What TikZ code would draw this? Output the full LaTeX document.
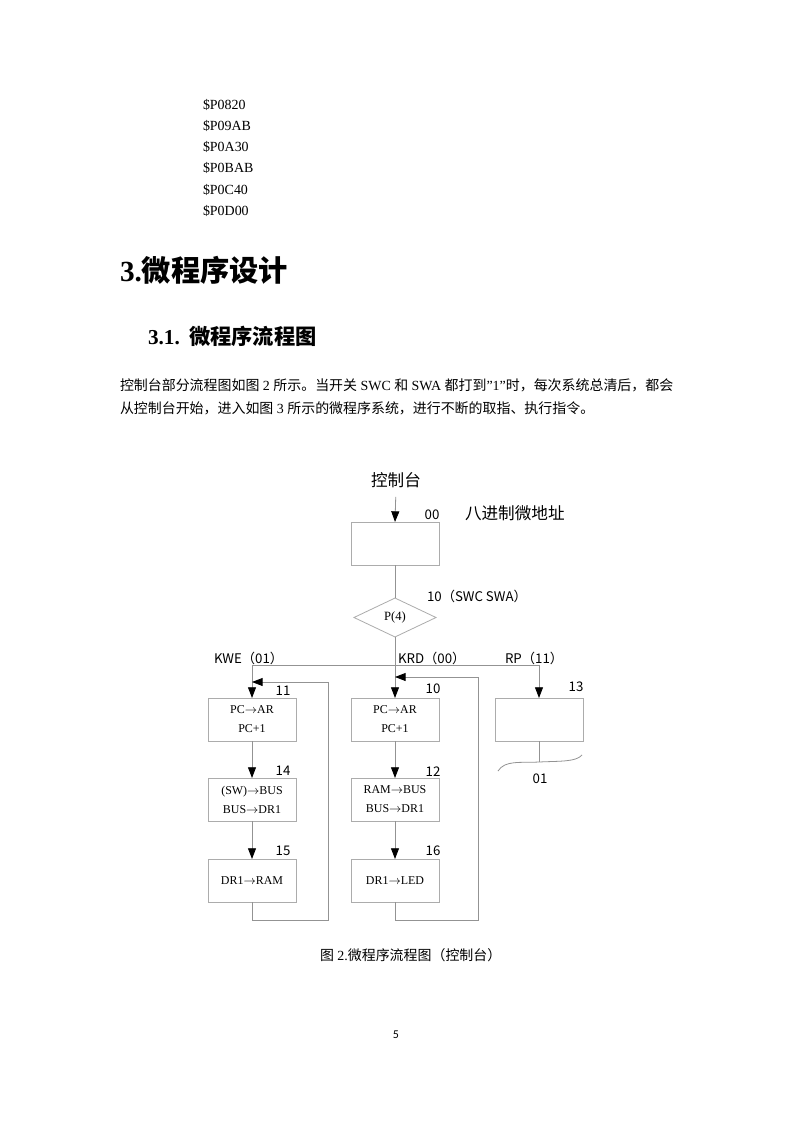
\documentclass[tikz,border=0pt]{standalone}
\usepackage{fontspec}
\setmainfont{Liberation Serif}
\newfontfamily\cjk{Noto Sans CJK SC}
\newfontfamily\pgfont{Carlito}
\usetikzlibrary{arrows.meta,positioning,shapes.geometric}
\newcommand\toarr{$\rightarrow$}

\begin{document}
\begin{tikzpicture}[x=0.026458cm,y=-0.026458cm,
  every node/.style={inner sep=0pt,outer sep=0pt},
  txt/.style={anchor=base west,font=\fontsize{10.5}{12}\selectfont},
  lbl/.style={font=\cjk\fontsize{10}{11}\selectfont},
  box/.style={draw=gray!65,line width=0.6pt,minimum width=2.33cm,minimum height=1.14cm,
    align=center,font=\fontsize{9}{14.3}\selectfont},
  ln/.style={draw=gray!85,line width=0.6pt},
  arr/.style={ln,-{Triangle[length=8pt,width=6pt,color=black]}}]
 \path[fill=white,use as bounding box] (0,0) rectangle (794,1123);
 % text of the page
 \foreach \c [count=\i] in {0820,09AB,0A30,0BAB,0C40,0D00}
   \node[txt] (code\i) at (203,{89+21*\i}) {\$P\c};
 \node[anchor=base west,font=\fontsize{22}{25}\selectfont\bfseries] (h1) at (120,281) {3.{\cjk 微程序设计}};
 \node[anchor=base west,font=\fontsize{16}{18}\selectfont\bfseries] (h2) at (148,344) {3.1.\hspace{7pt}{\cjk 微程序流程图}};
 \node[txt] (p1) at (120,390) {{\cjk 控制台部分流程图如图} 2 {\cjk 所示。当开关} SWC {\cjk 和} SWA {\cjk 都打到}"1"{\cjk 时，每次系统总清后，都会}};
 \node[txt] (p2) at (120,413) {{\cjk 从控制台开始，进入如图} 3 {\cjk 所示的微程序系统，进行不断的取指、执行指令。}};
 % flow chart
 \node[font=\cjk\fontsize{12.5}{14}\selectfont] (ctl) at (396,480) {控制台};
 \node[anchor=west,font=\cjk\fontsize{12.5}{14}\selectfont] (oct) at (465,513) {八进制微地址};
 \node[box] (b00) at (395,543.5) {};
 \node[diamond,draw=gray!65,line width=0.6pt,minimum width=2.17cm,minimum height=1.03cm,
   font=\fontsize{9.5}{11}\selectfont] (dia) at (395,617.5) {P(4)};
 \node[box] (b11) at (252,719.5) {PC\toarr AR\\PC+1};
 \node[box] (b14) at (252,799.5) {(SW)\toarr BUS\\BUS\toarr DR1};
 \node[box] (b15) at (252,880.5) {DR1\toarr RAM};
 \node[box] (b10) at (395,719.5) {PC\toarr AR\\PC+1};
 \node[box] (b12) at (395,799.5) {RAM\toarr BUS\\BUS\toarr DR1};
 \node[box] (b16) at (395,880.5) {DR1\toarr LED};
 \node[box] (b13) at (539,719.5) {};
 % labels
 \node[lbl] (a00) at (432,515) {00};
 \node[lbl,anchor=west] (asw) at (427,596) {10（SWC SWA）};
 \node[lbl,anchor=west] (kwe) at (214,658) {KWE（01）};
 \node[lbl,anchor=west] (krd) at (398,658) {KRD（00）};
 \node[lbl,anchor=west] (rp) at (505,658) {RP（11）};
 \foreach \n/\x/\y in {11/283/691,14/283/771,15/283/851,10/433/689,12/433/772,16/433/851,13/576/687}
   \node[lbl] (a\n) at (\x,\y) {\n};
 \node[lbl] (a01) at (540,779) {01};
 % connectors
 \coordinate (kL) at (252,665);
 \coordinate (kR) at (539,665);
 \coordinate (lpL) at (328,682);
 \coordinate (lpM) at (478,677);
 \coordinate (w13) at (539,762);
 \draw[arr,shorten <=7pt] (ctl.south) -- (b00.north);
 \draw[ln] (b00.south) -- (dia.north);
 \draw[arr] (dia.south) -- (b10.north);
 \draw[ln] (kL) -- (kR);
 \draw[arr] (kL) -- (b11.north);
 \draw[arr] (kR) -- (b13.north);
 \foreach \a/\b in {b11/b14,b14/b15,b10/b12,b12/b16}
   \draw[arr] (\a.south) -- (\b.north);
 \draw[arr] (b15.south) -- ++(0,18) -| (lpL) -- (b11.north |- lpL);
 \draw[arr] (b16.south) -- ++(0,18) -| (lpM) -- (b10.north |- lpM);
 \draw[ln] (b13.south) -- (w13);
 \draw[ln] (498,771) .. controls (505,760) and (520,763) .. (w13) .. controls (560,761) and (576,762) .. (582,755);
 % caption and page number
 \node[anchor=base west,font=\fontsize{10.5}{12}\selectfont] (cap) at (320,960) {{\cjk 图} 2.{\cjk 微程序流程图（控制台）}};
 \node[font=\pgfont\fontsize{9}{10}\selectfont] (pg) at (396,1035) {5};
\end{tikzpicture}
\end{document}
